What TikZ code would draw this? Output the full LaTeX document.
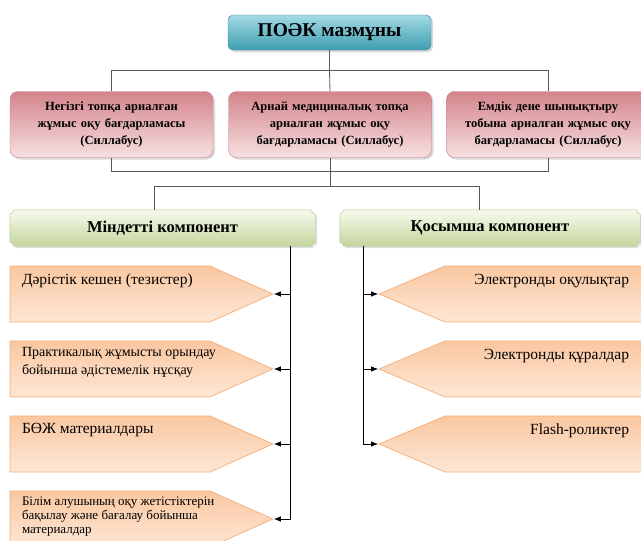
\documentclass[tikz,border=0pt]{standalone}
\usepackage{fontspec}
\setmainfont{Liberation Serif}
\usetikzlibrary{positioning,shapes.symbols,shadows,backgrounds,arrows.meta}
\definecolor{tealtop}{HTML}{A3DAE4}
\definecolor{tealbot}{HTML}{3E9EB1}
\definecolor{tealline}{HTML}{3A8797}
\definecolor{rosetop}{HTML}{D4848B}
\definecolor{rosebot}{HTML}{F6E0E0}
\definecolor{roseline}{HTML}{C47A81}
\definecolor{greentop}{HTML}{F7FAEE}
\definecolor{greenbot}{HTML}{C3D69D}
\definecolor{greenline}{HTML}{B2C789}
\definecolor{peachtop}{HTML}{FAC7A0}
\definecolor{peachbot}{HTML}{FDE7D6}
\definecolor{peachline}{HTML}{F5AE78}
\definecolor{linkgray}{HTML}{595959}
\newcommand{\lefttext}[2]{\parbox[c][56pt][t]{200pt}{\vspace*{#1}\raggedright\leftskip=12pt\rightskip=-60pt plus 1fil #2}}
\newcommand{\righttext}[2]{\parbox[c][56pt][t]{205pt}{\vspace*{#1}\raggedleft\rightskip=21pt #2}}

\begin{document}
\begin{tikzpicture}[x=1pt,y=-1pt,node distance=75pt]
	\tikzstyle{title} = [rectangle, rounded corners=5pt, draw=tealline, top color=tealtop, bottom color=tealbot, minimum width=203pt, minimum height=35pt, font=\fontsize{19.5}{22}\selectfont\bfseries, drop shadow={shadow xshift=2pt, shadow yshift=-2pt, opacity=0.3}];
	\tikzstyle{syllabus} = [rectangle, rounded corners=8pt, draw=roseline, top color=rosetop, bottom color=rosebot, minimum width=203pt, minimum height=66pt, text width=192pt, align=center, font=\fontsize{12.5}{17}\selectfont\bfseries, drop shadow={shadow xshift=2pt, shadow yshift=-2pt, opacity=0.3}];
	\tikzstyle{component} = [rectangle, minimum width=305pt, minimum height=36pt, font=\fontsize{16.5}{19}\selectfont\bfseries];
	\tikzstyle{plaque} = [draw=greenline, top color=greentop, bottom color=greenbot, drop shadow={shadow xshift=2pt, shadow yshift=-2pt, opacity=0.25}];
	\tikzstyle{lefttask} = [signal, signal to=east, signal pointer angle=48, draw=peachline, line width=0.7pt, top color=peachtop, bottom color=peachbot, inner sep=0pt, font=\fontsize{15.5}{18}\selectfont];
	\tikzstyle{righttask} = [signal, signal to=west, signal pointer angle=46, draw=peachline, line width=0.7pt, top color=peachtop, bottom color=peachbot, inner sep=0pt, font=\fontsize{15.5}{18}\selectfont];
	\tikzstyle{link} = [draw=linkgray, line width=0.8pt];
	\tikzstyle{arrow} = [draw=black, line width=0.8pt, -{Latex[length=7pt,width=5.5pt]}];

	\useasboundingbox (0,0) rectangle (641,541);
	\clip (0,0) rectangle (641,541);

	\node [title] (umkd) at (329.5,32.5) {ПОӘК мазмұны};
	\node [syllabus] (basic) at (111.5,124.5) {Негізгі топқа арналған\\жұмыс оқу бағдарламасы\\(Силлабус)};
	\node [syllabus] (special) at (330,124.5) {Арнай медициналық топқа\\арналған жұмыс оқу\\бағдарламасы (Силлабус)};
	\node [syllabus] (therapy) at (548,124.5) {Емдік дене шынықтыру\\тобына арналған жұмыс оқу\\бағдарламасы (Силлабус)};

	\node [component] (compulsory) at (162.5,228) {Міндетті компонент};
	\node [component, minimum width=300pt] (elective) at (490,228) {Қосымша компонент};
	\begin{scope}[on background layer]
		\path [plaque] ([xshift=4pt]compulsory.north west) -- ([xshift=-4pt]compulsory.north east) arc[start angle=180, end angle=90, radius=4]
			-- ([yshift=4pt]compulsory.south east) arc[start angle=270, end angle=180, radius=4]
			-- ([xshift=4pt]compulsory.south west) arc[start angle=0, end angle=-90, radius=4]
			-- ([yshift=-4pt]compulsory.north west) arc[start angle=90, end angle=0, radius=4] -- cycle;
		\path [plaque] ([xshift=4pt]elective.north west) -- ([xshift=-4pt]elective.north east) arc[start angle=180, end angle=90, radius=4]
			-- ([yshift=4pt]elective.south east) arc[start angle=270, end angle=180, radius=4]
			-- ([xshift=4pt]elective.south west) arc[start angle=0, end angle=-90, radius=4]
			-- ([yshift=-4pt]elective.north west) arc[start angle=90, end angle=0, radius=4] -- cycle;
	\end{scope}

	\node [lefttask] (lecture) at (110,294) {\lefttext{8pt}{Дәрістік кешен (тезистер)}};
	\node [lefttask, below of=lecture, font=\fontsize{14}{18}\selectfont] (practice) {\lefttext{6.5pt}{Практикалық жұмысты орындау\\бойынша әдістемелік нұсқау}};
	\node [lefttask, below of=practice] (srs) {\lefttext{7.5pt}{БӨЖ материалдары}};
	\node [lefttask, below of=srs, font=\fontsize{13}{14}\selectfont] (assess) {\lefttext{6pt}{Білім алушының оқу жетістіктерін\\бақылау және бағалау бойынша\\материалдар}};

	\node [righttask] (ebooks) at (547.5,294) {\righttext{8pt}{Электронды оқулықтар}};
	\node [righttask, below of=ebooks] (etools) {\righttext{8pt}{Электронды құралдар}};
	\node [righttask, below of=etools] (flash) {\righttext{8pt}{Flash-роликтер}};

	% upper tree
	\draw [link] (umkd.south) -- ++(0,20) coordinate (bus1);
	\draw [link] (basic.north) |- (bus1) -| (therapy.north);
	\draw [link] (bus1) -- (special.north);
	\path (special.south) ++(0,14) coordinate (bus2) ++(0,15) coordinate (bus3);
	\draw [link] (basic.south) |- (bus2) -| (therapy.south);
	\draw [link] (special.south) -- (bus3);
	\draw [link] ([xshift=-8pt]compulsory.north) |- (bus3) -| ([xshift=-11pt]elective.north);

	% task arrows
	\coordinate (spineL) at (290,246);
	\coordinate (spineR) at (363,246);
	\draw [arrow] (spineL) |- (assess.east);
	\foreach \t in {lecture,practice,srs}
		\draw [arrow] (spineL |- \t.east) -- (\t.east);
	\draw [arrow] (spineR) |- (flash.west);
	\foreach \t in {ebooks,etools}
		\draw [arrow] (spineR |- \t.west) -- (\t.west);
\end{tikzpicture}
\end{document}
